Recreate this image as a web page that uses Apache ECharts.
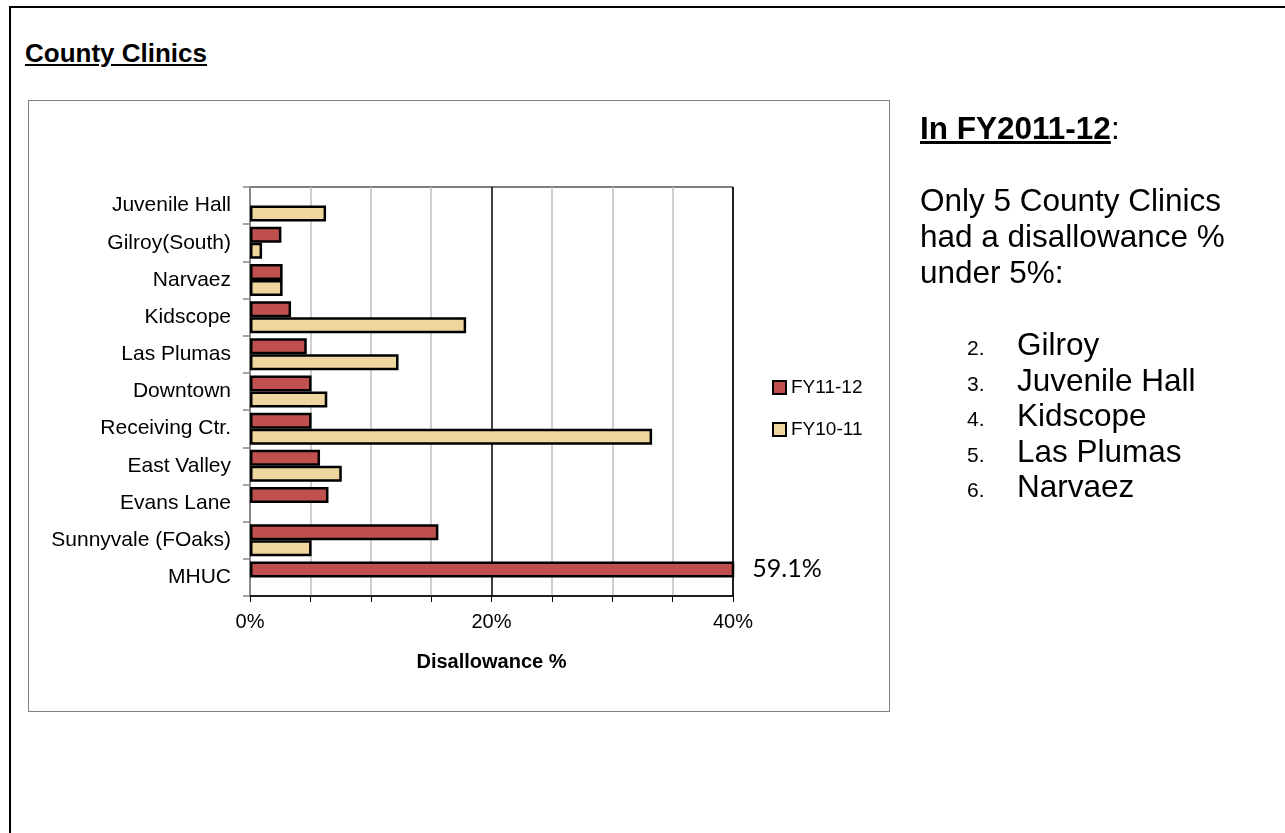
<!DOCTYPE html>
<html>
<head>
<meta charset="UTF-8">
<script src="https://cdn.jsdelivr.net/npm/echarts@6/dist/echarts.min.js"></script>
<style>
  body { margin:0; background:#fff; font-family:"Liberation Sans", Arial, sans-serif; }
  .pageTop { position:absolute; left:9px; right:0; top:6px; height:2px; background:#000; }
  .pageLeft { position:absolute; left:9px; top:6px; bottom:0; width:2px; background:#000; }
  .section { position:absolute; left:25px; top:38px; font-size:26px; font-weight:bold; text-decoration:underline; }
  .box { position:absolute; left:28px; top:100px; width:860px; height:610px; border:1.5px solid #808080; }
  #chart { position:absolute; left:0; top:0; width:1285px; height:833px; }
  .note { position:absolute; left:920px; top:110px; font-size:31.5px; line-height:36px; color:#000; }
  .note p { margin:0 0 36px 0; }
  .note ol { margin:0; padding:1px 0 0 47px; list-style:none; }
  .note li { height:35.5px; line-height:35.5px; }
  .note li span { font-size:21px; display:inline-block; width:50px; }
</style>
</head>
<body>
<div class="pageTop"></div>
<div class="pageLeft"></div>
<div class="section">County Clinics</div>
<div class="box"></div>
<div id="chart"></div>
<div class="note">
  <p><b><u>In FY2011-12</u></b>:</p>
  <p>Only 5 County Clinics<br>had a disallowance %<br>under 5%:</p>
  <ol>
    <li><span>2.</span>Gilroy</li>
    <li><span>3.</span>Juvenile Hall</li>
    <li><span>4.</span>Kidscope</li>
    <li><span>5.</span>Las Plumas</li>
    <li><span>6.</span>Narvaez</li>
  </ol>
</div>
<script type="text/javascript">
// clinics listed top to bottom
var clinics = ['Juvenile Hall', 'Gilroy(South)', 'Narvaez', 'Kidscope', 'Las Plumas', 'Downtown',
               'Receiving Ctr.', 'East Valley', 'Evans Lane', 'Sunnyvale (FOaks)', 'MHUC'];
var fy1112 = [null, 0.026, 0.027, 0.034, 0.047, 0.051, 0.051, 0.058, 0.065, 0.156, 0.591];
var fy1011 = [0.063, 0.010, 0.027, 0.179, 0.123, 0.064, 0.333, 0.076, null, 0.051, null];
var axisMax = 0.4;
var labeled = ['MHUC'];

var font = '"Liberation Sans", Arial, sans-serif';

var redData = fy1112.map(function (v, i) {
    if (labeled.indexOf(clinics[i]) >= 0) {
        return { value: v, label: { show: true } };
    }
    return v;
});

var myChart = echarts.init(document.getElementById('chart'));
var option = {
    animation: false,
    grid: { left: 250, top: 187, width: 483, height: 409, show: true,
            borderColor: '#000', borderWidth: 1, backgroundColor: 'transparent' },
    legend: {
        orient: 'vertical', left: 772, top: 378, padding: 0,
        itemWidth: 13, itemHeight: 13, itemGap: 23, icon: 'rect',
        textStyle: { fontFamily: font, fontSize: 19, color: '#000' },
        itemStyle: { borderColor: '#000', borderWidth: 2 },
        data: ['FY11-12', 'FY10-11']
    },
    xAxis: {
        type: 'value', min: 0, max: axisMax, interval: 0.05,
        name: 'Disallowance %', nameLocation: 'middle', nameGap: 56,
        nameTextStyle: { fontFamily: font, fontSize: 20, fontWeight: 'bold', color: '#000' },
        axisLine: { show: true, lineStyle: { color: '#000', width: 1.5 } },
        axisTick: { show: true, length: 6, lineStyle: { color: '#000' } },
        axisLabel: {
            margin: 16, fontFamily: font, fontSize: 20, color: '#000',
            formatter: function (v) {
                var p = Math.round(v * 100);
                return p % 20 === 0 ? p + '%' : '';
            }
        },
        splitLine: { show: true, lineStyle: { color: ['#000', '#bfbfbf', '#bfbfbf', '#bfbfbf'], width: 1.5 } }
    },
    yAxis: {
        type: 'category', inverse: true, data: clinics,
        axisLine: { show: true, lineStyle: { color: '#888', width: 2 } },
        axisTick: { show: true, length: 7, lineStyle: { color: '#888', width: 1.5 } },
        axisLabel: { margin: 19, fontFamily: font, fontSize: 21, color: '#000' }
    },
    series: [
        {
            name: 'FY11-12', type: 'bar', data: redData, barWidth: 16, barGap: '0%',
            itemStyle: { color: '#c0504d', borderColor: '#000', borderWidth: 2.5 },
            label: {
                show: false, position: 'right', distance: 18,
                fontFamily: 'Lato, "Open Sans", sans-serif', fontSize: 25, color: '#000',
                formatter: function (p) { return (p.value * 100).toFixed(1) + '%'; }
            }
        },
        {
            name: 'FY10-11', type: 'bar', data: fy1011, barWidth: 16, barGap: '0%',
            itemStyle: { color: '#efd69f', borderColor: '#000', borderWidth: 2.5 }
        }
    ]
};
myChart.setOption(option);
</script>
</body>
</html>
